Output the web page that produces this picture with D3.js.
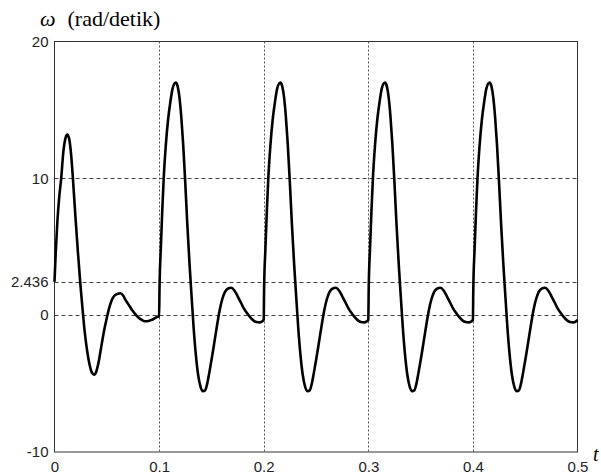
<!DOCTYPE html>
<html lang="en">
<head>
<meta charset="utf-8">
<script src="https://d3js.org/d3.v7.min.js"></script>
<style>
  body { margin: 0; background: #fff; }
  svg { display: block; }
</style>
</head>
<body>
<div id="chart"></div>
<script>
// readings, one cycle per pair of arrays
const cycle1T = [0.0000, 0.0012, 0.0028, 0.0046, 0.0064, 0.0084, 0.0104, 0.0122, 0.0140, 0.0158,
                 0.0176, 0.0200, 0.0224, 0.0248, 0.0270, 0.0290, 0.0312, 0.0335, 0.0358, 0.0378,
                 0.0398, 0.0420, 0.0445, 0.0470, 0.0497, 0.0522, 0.0545, 0.0570, 0.0600, 0.0630,
                 0.0655, 0.0680, 0.0710, 0.0740, 0.0770, 0.0800, 0.0835, 0.0865, 0.0900, 0.0930,
                 0.0960, 0.0985];
const cycle1W = [2.44, 4.6, 6.9, 8.7, 10.0, 11.9, 12.9, 13.2, 12.9, 11.8,
                 10.0, 7.2, 4.6, 2.2, 0.3, -1.3, -2.6, -3.6, -4.2, -4.35,
                 -4.15, -3.5, -2.4, -1.3, -0.3, 0.5, 1.05, 1.4, 1.55, 1.6,
                 1.45, 1.1, 0.75, 0.4, 0.1, -0.15, -0.35, -0.44, -0.42, -0.34,
                 -0.22, -0.12];

const cycle2T = [0.1000, 0.1004, 0.1016, 0.1030, 0.1044, 0.1064, 0.1086, 0.1108, 0.1130, 0.1160,
                 0.1178, 0.1195, 0.1212, 0.1230, 0.1248, 0.1270, 0.1292, 0.1312, 0.1330, 0.1350,
                 0.1372, 0.1395, 0.1420, 0.1440, 0.1460, 0.1480, 0.1505, 0.1530, 0.1555, 0.1580,
                 0.1605, 0.1630, 0.1660, 0.1690, 0.1720, 0.1750, 0.1780, 0.1810, 0.1840, 0.1870,
                 0.1900, 0.1930, 0.1960, 0.1985];
const cycle2W = [-0.1, 2.0, 4.8, 7.6, 10.0, 12.4, 14.3, 15.6, 16.6, 17.0,
                 16.7, 15.9, 14.5, 12.5, 10.0, 6.6, 3.6, 1.2, -0.9, -2.8,
                 -4.3, -5.2, -5.55, -5.5, -5.0, -4.2, -3.1, -1.9, -0.7, 0.4,
                 1.2, 1.7, 1.95, 2.0, 1.8, 1.4, 0.95, 0.5, 0.15, -0.15,
                 -0.38, -0.5, -0.53, -0.45];

const cycle3T = [0.2000, 0.2004, 0.2016, 0.2030, 0.2044, 0.2064, 0.2086, 0.2108, 0.2130, 0.2160,
                 0.2178, 0.2195, 0.2212, 0.2230, 0.2248, 0.2270, 0.2292, 0.2312, 0.2330, 0.2350,
                 0.2372, 0.2395, 0.2420, 0.2440, 0.2460, 0.2480, 0.2505, 0.2530, 0.2555, 0.2580,
                 0.2605, 0.2630, 0.2660, 0.2690, 0.2720, 0.2750, 0.2780, 0.2810, 0.2840, 0.2870,
                 0.2900, 0.2930, 0.2960, 0.2985];
const cycle3W = [-0.35, 2.0, 4.8, 7.6, 10.0, 12.4, 14.3, 15.6, 16.6, 17.0,
                 16.7, 15.9, 14.5, 12.5, 10.0, 6.6, 3.6, 1.2, -0.9, -2.8,
                 -4.3, -5.2, -5.55, -5.5, -5.0, -4.2, -3.1, -1.9, -0.7, 0.4,
                 1.2, 1.7, 1.95, 2.0, 1.8, 1.4, 0.95, 0.5, 0.15, -0.15,
                 -0.38, -0.5, -0.53, -0.45];

const cycle4T = [0.3000, 0.3004, 0.3016, 0.3030, 0.3044, 0.3064, 0.3086, 0.3108, 0.3130, 0.3160,
                 0.3178, 0.3195, 0.3212, 0.3230, 0.3248, 0.3270, 0.3292, 0.3312, 0.3330, 0.3350,
                 0.3372, 0.3395, 0.3420, 0.3440, 0.3460, 0.3480, 0.3505, 0.3530, 0.3555, 0.3580,
                 0.3605, 0.3630, 0.3660, 0.3690, 0.3720, 0.3750, 0.3780, 0.3810, 0.3840, 0.3870,
                 0.3900, 0.3930, 0.3960, 0.3985];
const cycle4W = [-0.35, 2.0, 4.8, 7.6, 10.0, 12.4, 14.3, 15.6, 16.6, 17.0,
                 16.7, 15.9, 14.5, 12.5, 10.0, 6.6, 3.6, 1.2, -0.9, -2.8,
                 -4.3, -5.2, -5.55, -5.5, -5.0, -4.2, -3.1, -1.9, -0.7, 0.4,
                 1.2, 1.7, 1.95, 2.0, 1.8, 1.4, 0.95, 0.5, 0.15, -0.15,
                 -0.38, -0.5, -0.53, -0.45];

const cycle5T = [0.4000, 0.4004, 0.4016, 0.4030, 0.4044, 0.4064, 0.4086, 0.4108, 0.4130, 0.4160,
                 0.4178, 0.4195, 0.4212, 0.4230, 0.4248, 0.4270, 0.4292, 0.4312, 0.4330, 0.4350,
                 0.4372, 0.4395, 0.4420, 0.4440, 0.4460, 0.4480, 0.4505, 0.4530, 0.4555, 0.4580,
                 0.4605, 0.4630, 0.4660, 0.4690, 0.4720, 0.4750, 0.4780, 0.4810, 0.4840, 0.4870,
                 0.4900, 0.4930, 0.4960, 0.4985, 0.5000];
const cycle5W = [-0.35, 2.0, 4.8, 7.6, 10.0, 12.4, 14.3, 15.6, 16.6, 17.0,
                 16.7, 15.9, 14.5, 12.5, 10.0, 6.6, 3.6, 1.2, -0.9, -2.8,
                 -4.3, -5.2, -5.55, -5.5, -5.0, -4.2, -3.1, -1.9, -0.7, 0.4,
                 1.2, 1.7, 1.95, 2.0, 1.8, 1.4, 0.95, 0.5, 0.15, -0.15,
                 -0.38, -0.5, -0.53, -0.45, -0.35];

const xTicks = [0, 0.1, 0.2, 0.3, 0.4, 0.5];
const xTickLabels = ["0", "0.1", "0.2", "0.3", "0.4", "0.5"];
const yTicks = [-10, 0, 2.436, 10, 20];
const yTickLabels = ["-10", "0", "2.436", "10", "20"];
const xGrid = [0.1, 0.2, 0.3, 0.4];
const yGrid = [0, 2.436, 10];

const width = 601, height = 475;
const plotLeft = 54.5, plotRight = 577.5, plotTop = 41.5, plotBottom = 452;

const T = [].concat(cycle1T, cycle2T, cycle3T, cycle4T, cycle5T);
const W = [].concat(cycle1W, cycle2W, cycle3W, cycle4W, cycle5W);
const data = T.map((t, i) => ({t: t, w: W[i]}));

const x = d3.scaleLinear().domain([0, 0.5]).range([plotLeft, plotRight]);
const y = d3.scaleLinear().domain([-10, 20]).range([plotBottom, plotTop]);

const svg = d3.select("#chart").append("svg")
    .attr("width", width)
    .attr("height", height)
    .attr("viewBox", [0, 0, width, height]);

svg.append("rect").attr("width", width).attr("height", height).attr("fill", "#fff");

// grid
svg.append("g").selectAll("line").data(xGrid).join("line")
    .attr("x1", d => Math.round(x(d)) + 0.5).attr("x2", d => Math.round(x(d)) + 0.5)
    .attr("y1", plotTop).attr("y2", plotBottom)
    .attr("stroke", "#555").attr("stroke-dasharray", "2,2");

svg.append("g").selectAll("line").data(yGrid).join("line")
    .attr("x1", plotLeft).attr("x2", plotRight)
    .attr("y1", d => Math.round(y(d)) + 0.5).attr("y2", d => Math.round(y(d)) + 0.5)
    .attr("stroke", "#444").attr("stroke-dasharray", "4,3");

// axes
svg.append("g")
    .attr("transform", `translate(0,${plotBottom})`)
    .call(d3.axisBottom(x).tickValues(xTicks).tickSize(0).tickPadding(9)
        .tickFormat((d, i) => xTickLabels[i]))
    .call(g => g.select(".domain").remove())
    .call(g => g.selectAll("text").attr("fill", "#222")
        .style("font-family", "Liberation Sans, Arial, sans-serif").style("font-size", "15px"));

svg.append("g")
    .attr("transform", `translate(${plotLeft},0)`)
    .call(d3.axisLeft(y).tickValues(yTicks).tickSize(0).tickPadding(6)
        .tickFormat((d, i) => yTickLabels[i]))
    .call(g => g.select(".domain").remove())
    .call(g => g.selectAll("text").attr("fill", "#222")
        .style("font-family", "Liberation Sans, Arial, sans-serif").style("font-size", "15px"));

// box
svg.append("rect")
    .attr("x", plotLeft).attr("y", plotTop)
    .attr("width", plotRight - plotLeft).attr("height", plotBottom - plotTop)
    .attr("fill", "none").attr("stroke", "#333").attr("stroke-width", 1);

// curve
const line = d3.line()
    .x(d => x(d.t))
    .y(d => y(d.w))
    .curve(d3.curveMonotoneX);

svg.append("path")
    .datum(data)
    .attr("fill", "none")
    .attr("stroke", "#000")
    .attr("stroke-width", 2.6)
    .attr("stroke-linejoin", "round")
    .attr("d", line);

// labels
const title = svg.append("text")
    .attr("x", 40).attr("y", 26)
    .style("font-family", "Liberation Serif, Times New Roman, serif")
    .style("font-size", "22px")
    .attr("fill", "#000");
title.append("tspan").style("font-style", "italic").text("ω");
title.append("tspan").attr("dx", 12).text("(rad/detik)");

svg.append("text")
    .attr("x", 593).attr("y", 461)
    .style("font-family", "Liberation Serif, Times New Roman, serif")
    .style("font-size", "20px")
    .style("font-style", "italic")
    .text("t");
</script>
</body>
</html>
